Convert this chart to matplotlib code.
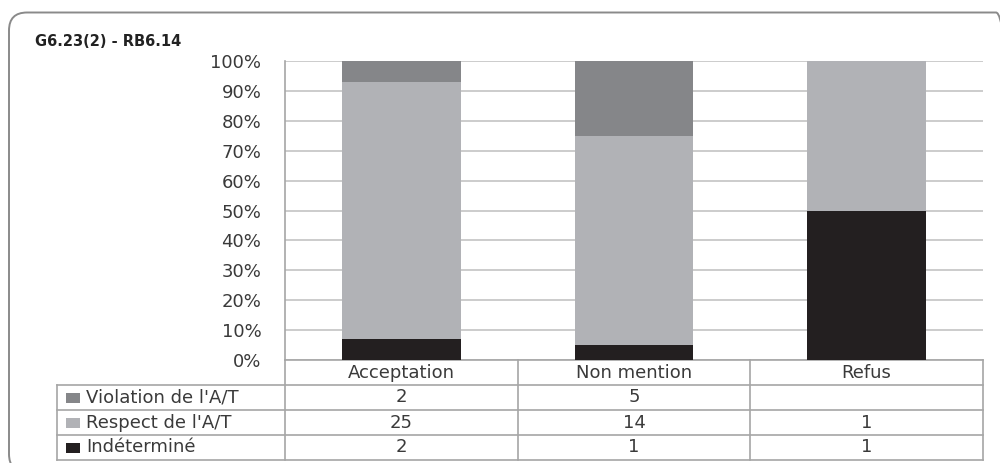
import matplotlib
matplotlib.use("Agg")
import matplotlib.pyplot as plt
from matplotlib.patches import FancyBboxPatch, Rectangle
from matplotlib.transforms import blended_transform_factory
import numpy as np

plt.rcParams['font.family'] = ['DejaVu Sans']

title = "G6.23(2) - RB6.14"
categories = ["Acceptation", "Non mention", "Refus"]
series_names = ["Violation de l'A/T", "Respect de l'A/T", "Indéterminé"]
violation = [2, 5, 0]
respect = [25, 14, 1]
indetermine = [2, 1, 1]
colors = ["#858689", "#b1b2b6", "#231f20"]
yticks = [0, 10, 20, 30, 40, 50, 60, 70, 80, 90, 100]

W, H = 1000, 463
fig = plt.figure(figsize=(W / 100, H / 100), dpi=100)
TXT = "#3a3a3a"
FS = 13

def fx(px):
    return px / W

def fy(py):
    return 1 - py / H

# outer rounded frame (coordinates in inches, 100 px per inch); it runs past
# the right and bottom edges of the canvas
frame = FancyBboxPatch((9 / 100, (H - 472) / 100), 1005 / 100, (472 - 12.5) / 100,
                       boxstyle="round,pad=0,rounding_size=0.18",
                       transform=fig.dpi_scale_trans, fill=False,
                       edgecolor="#8a8a8a", linewidth=1.4)
fig.patches.append(frame)

fig.text(fx(35), fy(41), title, fontsize=10.5, fontweight="bold",
         color="#222222", ha="left", va="center")

left, right, top, bottom = 285, 983, 61, 360
ax = fig.add_axes([fx(left), fy(bottom), fx(right) - fx(left), fy(top) - fy(bottom)])

totals = np.array(violation) + np.array(respect) + np.array(indetermine)
stack = [np.array(indetermine) / totals * 100,
         np.array(respect) / totals * 100,
         np.array(violation) / totals * 100]
stack_colors = [colors[2], colors[1], colors[0]]
x = np.arange(len(categories))
base = np.zeros(len(categories))
for vals, c in zip(stack, stack_colors):
    ax.bar(x, vals, bottom=base, width=0.51, color=c, zorder=3, linewidth=0)
    base = base + vals

ax.set_xlim(-0.5, len(categories) - 0.5)
ax.set_ylim(0, 100)
ax.set_yticks(yticks)
ax.set_yticklabels([f"{t}%" for t in yticks], fontsize=FS, color=TXT)
ax.tick_params(axis="y", length=0, pad=17)
ax.set_xticks([])
ax.grid(axis="y", color="#c4c4c4", linewidth=1.2, zorder=0)
for s in ["top", "right", "bottom"]:
    ax.spines[s].set_visible(False)
ax.spines["left"].set_color("#a6a6a6")
ax.spines["left"].set_linewidth(1.2)

# data table beneath the axes
ax_w = right - left
ax_h = bottom - top
row_h = 25 / ax_h
table_left = (57 - left) / ax_w
line_kw = dict(color="#a6a6a6", linewidth=1.2, clip_on=False)
btr = blended_transform_factory(ax.transData, ax.transAxes)
n_rows = len(series_names) + 1
y_bottom = -n_rows * row_h

ax.plot([-0.5, len(categories) - 0.5], [0, 0], transform=btr, **line_kw)
for r in range(1, n_rows + 1):
    ax.plot([table_left, 1], [-r * row_h, -r * row_h], transform=ax.transAxes, **line_kw)
ax.plot([table_left, table_left], [-row_h, y_bottom], transform=ax.transAxes, **line_kw)
for b in np.arange(len(categories) + 1) - 0.5:
    ax.plot([b, b], [0, y_bottom], transform=btr, **line_kw)

txt_kw = dict(fontsize=FS, color=TXT, ha="center", va="center", clip_on=False)
for i, cat in enumerate(categories):
    ax.text(i, -0.5 * row_h, cat, transform=btr, **txt_kw)

rows = [violation, respect, indetermine]
for r, (name, vals, c) in enumerate(zip(series_names, rows, colors)):
    yc = -(r + 1.5) * row_h
    ax.add_patch(Rectangle((table_left + 9 / ax_w, yc - 5 / ax_h), 14 / ax_w, 10 / ax_h,
                           transform=ax.transAxes, facecolor=c, edgecolor="none",
                           clip_on=False))
    ax.text(table_left + 29 / ax_w, yc, name, transform=ax.transAxes,
            fontsize=FS, color=TXT, ha="left", va="center")
    for i, v in enumerate(vals):
        if v:
            ax.text(i, yc, str(v), transform=btr, **txt_kw)

fig.savefig("out.png", dpi=100)
